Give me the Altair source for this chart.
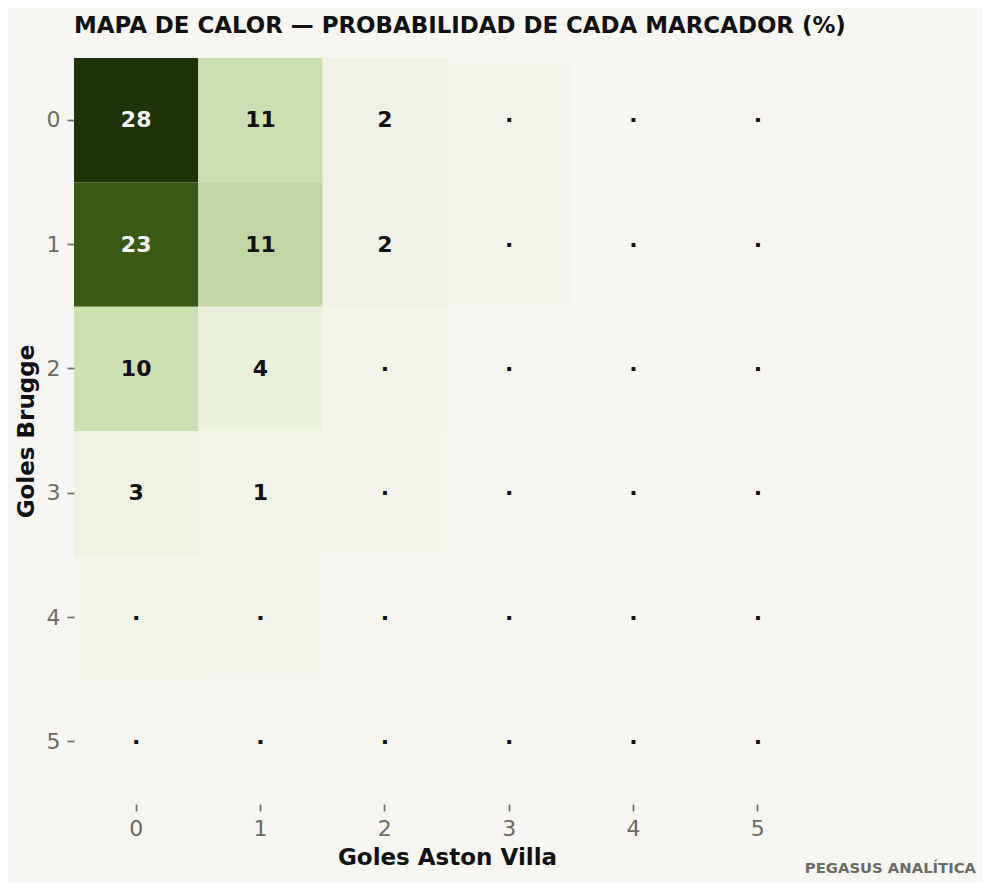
import altair as alt
import pandas as pd

goles = [0, 1, 2, 3, 4, 5]

# probabilidad (%) por fila: goles Brugge 0..5, columnas goles Aston Villa 0..5
fila_0 = [28.0, 10.6, 2.2, 0.3, 0.03, 0.0]
fila_1 = [23.0, 11.4, 2.1, 0.3, 0.02, 0.0]
fila_2 = [10.4, 4.4, 0.8, 0.15, 0.01, 0.0]
fila_3 = [2.9, 1.2, 0.3, 0.03, 0.0, 0.0]
fila_4 = [0.6, 0.25, 0.03, 0.0, 0.0, 0.0]
fila_5 = [0.1, 0.03, 0.0, 0.0, 0.0, 0.0]
filas = [fila_0, fila_1, fila_2, fila_3, fila_4, fila_5]

FONDO = "#f7f6f2"
TINTA = "#111111"
GRIS = "#6b6b65"
FUENTE = "DejaVu Sans"

stops = [0, 0.03, 0.1, 0.3, 0.6, 1.2, 2.1, 2.9, 4.4, 10.5, 11.4, 23, 28]
tonos = ["#f7f6f2", "#f7f6f2", "#f6f5f0", "#f5f5ed", "#f4f5eb", "#f2f3e9", "#f0f2e5",
         "#eff3e3", "#e9f1db", "#cde0b1", "#c3d7a4", "#3b5a14", "#1e3307"]

rows = []
for b, fila in zip(goles, filas):
    for v, p in zip(goles, fila):
        rows.append({
            "brugge": b,
            "villa": v,
            "prob": p,
            "label": str(round(p)) if p >= 1 else "·",
            "claro": p > 15,
        })
df = pd.DataFrame(rows)

x_enc = alt.X(
    "villa:O",
    sort=goles,
    scale=alt.Scale(paddingInner=0, paddingOuter=0),
    axis=alt.Axis(
        title="Goles Aston Villa", labelAngle=0, labelFontSize=22, labelColor=GRIS,
        labelPadding=7, tickColor=GRIS, tickWidth=1.7, tickSize=7, domain=False,
        titleFontSize=23, titleFontWeight="bold", titleColor=TINTA, titlePadding=7,
    ),
)
y_enc = alt.Y(
    "brugge:O",
    sort=goles,
    scale=alt.Scale(paddingInner=0, paddingOuter=0),
    axis=alt.Axis(
        title="Goles Brugge", labelAngle=0, labelFontSize=22, labelColor=GRIS,
        labelPadding=7, tickColor=GRIS, tickWidth=1.7, tickSize=7, domain=False,
        titleFontSize=23, titleFontWeight="bold", titleColor=TINTA, titlePadding=8,
    ),
)

celdas = alt.Chart(df).mark_rect().encode(
    x=x_enc,
    y=y_enc,
    color=alt.Color("prob:Q", legend=None, scale=alt.Scale(domain=stops, range=tonos, interpolate="rgb")),
)

textos = alt.Chart(df).mark_text(font=FUENTE, fontSize=22, fontWeight="bold").encode(
    x=x_enc,
    y=y_enc,
    text="label:N",
    color=alt.condition(alt.datum.claro, alt.value(FONDO), alt.value(TINTA)),
)

firma = alt.Chart(pd.DataFrame({"t": ["PEGASUS ANALÍTICA"]})).mark_text(
    font=FUENTE, fontSize=14.8, fontWeight="bold", color=GRIS, align="right", baseline="middle",
).encode(text="t:N", x=alt.value(902), y=alt.value(811))

chart = (
    alt.layer(celdas, textos, firma)
    .properties(
        width=746,
        height=746,
        background=FONDO,
        padding={"left": 66, "top": 50, "right": 163, "bottom": 78},
        autosize=alt.AutoSizeParams(type="none"),
        title=alt.TitleParams(
            "MAPA DE CALOR — PROBABILIDAD DE CADA MARCADOR (%)",
            font=FUENTE, fontSize=22.9, fontWeight="bold", color=TINTA,
            anchor="start", frame="group", offset=20,
        ),
    )
    .configure_view(stroke=None)
    .configure_axis(labelFont=FUENTE, titleFont=FUENTE)
)

chart.save("out.html", embed_options={"renderer": "svg", "actions": False})
